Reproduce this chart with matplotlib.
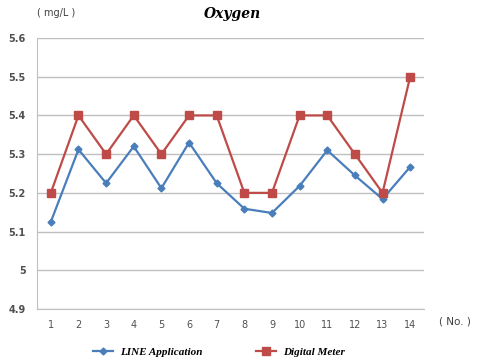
import matplotlib
matplotlib.use('Agg')
from matplotlib import pyplot as plt

samples = list(range(1, 15))
line_app = [5.125, 5.312, 5.225, 5.320, 5.212, 5.330, 5.225, 5.159, 5.148, 5.218, 5.310, 5.245, 5.184, 5.267]
digital = [5.2, 5.4, 5.3, 5.4, 5.3, 5.4, 5.4, 5.2, 5.2, 5.4, 5.4, 5.3, 5.2, 5.5]
yticks = [4.9, 5.0, 5.1, 5.2, 5.3, 5.4, 5.5, 5.6]
ylabels = ['4.9', '5', '5.1', '5.2', '5.3', '5.4', '5.5', '5.6']

blue = '#4a7ebb'
red = '#be4b48'

fig = plt.figure(figsize=(4.8, 3.61), dpi=100)
ax = fig.add_axes([37/480, 1-309/361, (424-37)/480, (309-38)/361])

ax.plot(samples, line_app, color=blue, lw=1.6, marker='D', ms=3.5, label='LINE Application')
ax.plot(samples, digital, color=red, lw=1.6, marker='s', ms=5.5, label='Digital Meter')

ax.set_xlim(0.5, 14.5)
ax.set_ylim(4.9, 5.6)
ax.set_yticks(yticks, ylabels)
ax.set_xticks(samples)
ax.grid(axis='y', color='#c0c0c0', lw=1)
ax.set_axisbelow(True)
for s in ['top', 'right']:
    ax.spines[s].set_visible(False)
for s in ['left', 'bottom']:
    ax.spines[s].set_color('#c0c0c0')
ax.tick_params(length=0, labelsize=7, colors='#505050', pad=8)
for lbl in ax.get_yticklabels():
    lbl.set_fontweight('bold')

fig.text(37/480, 1-13/361, '( mg/L )', fontsize=7, color='#404040', va='center', ha='left')
fig.text(233/480, 1-14/361, 'Oxygen', fontsize=10, family='DejaVu Serif', style='italic', weight='bold', va='center', ha='center')
fig.text(455/480, 1-321/361, '( No. )', fontsize=7.5, color='#404040', va='center', ha='center')

fig.legend(loc='center', bbox_to_anchor=(219/480, 1-352/361), ncol=2, frameon=False,
           prop={'family': 'Liberation Serif', 'style': 'italic', 'weight': 'bold', 'size': 8},
           handlelength=1.8, handletextpad=0.6, columnspacing=4.8)

fig.savefig('out.png', dpi=100)
